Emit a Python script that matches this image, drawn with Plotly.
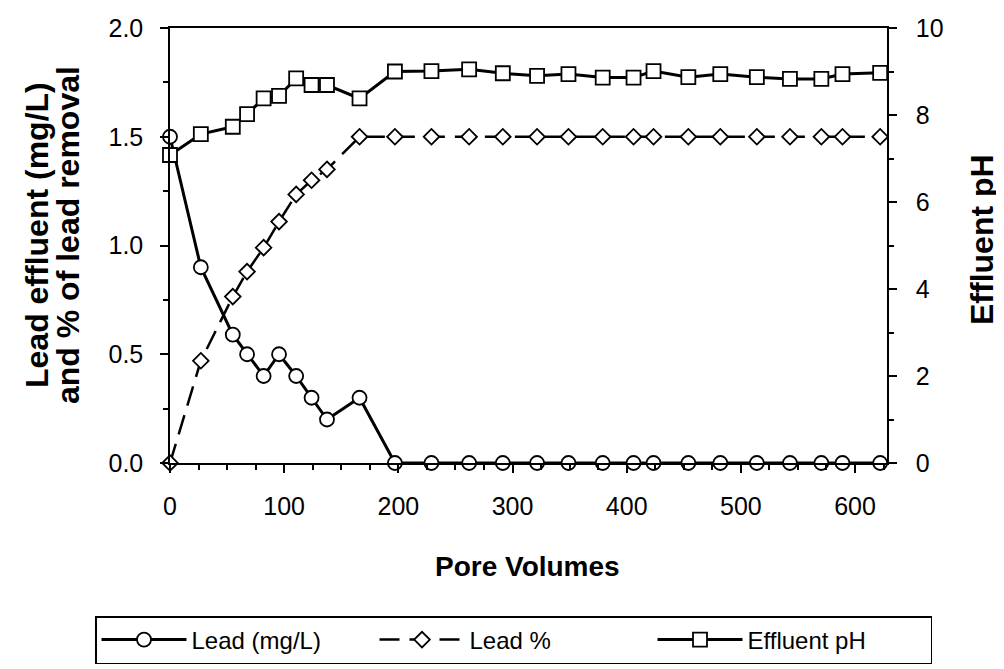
import plotly.graph_objects as go

pore_volumes = [0, 27, 55, 67.5, 82, 95.5, 110.5, 124, 137.5, 166, 197, 229, 262, 291.5,
                321.5, 349, 379, 406, 423.5, 454, 482, 514, 543, 570.5, 589, 622]
lead_mgL = [1.5, 0.9, 0.59, 0.5, 0.4, 0.5, 0.4, 0.3, 0.2, 0.3] + [0.0] * 16
lead_pct = [0.0, 0.47, 0.765, 0.88, 0.99, 1.11, 1.235, 1.30, 1.35, 1.5] + [1.5] * 16
effluent_ph = [7.08, 7.56, 7.73, 8.02, 8.38, 8.44, 8.84, 8.69, 8.69, 8.38, 9.0, 9.01, 9.05,
               8.96, 8.9, 8.94, 8.86, 8.86, 9.01, 8.87, 8.94, 8.87, 8.83, 8.83, 8.94, 8.97]

FONT = "Liberation Sans, Arial, sans-serif"

fig = go.Figure()
fig.add_trace(go.Scatter(
    x=pore_volumes, y=lead_mgL, name="Lead (mg/L)", mode="lines+markers",
    line=dict(color="black", width=3),
    marker=dict(symbol="circle", size=14, color="white", line=dict(color="black", width=1.8)),
    cliponaxis=False))
fig.add_trace(go.Scatter(
    x=pore_volumes, y=lead_pct, name="Lead %", mode="lines+markers",
    line=dict(color="black", width=2.5, dash="20px,10px"),
    marker=dict(symbol="diamond", size=12, color="white", line=dict(color="black", width=1.8)),
    cliponaxis=False))
fig.add_trace(go.Scatter(
    x=pore_volumes, y=effluent_ph, name="Effluent pH", mode="lines+markers", yaxis="y2",
    line=dict(color="black", width=3),
    marker=dict(symbol="square", size=14, color="white", line=dict(color="black", width=1.8)),
    cliponaxis=False))

axis_common = dict(showline=True, linecolor="black", linewidth=1.5, showgrid=False, zeroline=False,
                   ticks="outside", ticklen=8, tickwidth=1.5, tickcolor="black",
                   tickfont=dict(family=FONT, size=25, color="black"))

# the page body adds an 8 px offset, so margins are reduced by 8
fig.update_layout(
    width=1004, height=669,
    margin=dict(l=162, r=125, t=20, b=214, autoexpand=False),
    paper_bgcolor="white", plot_bgcolor="white",
    font=dict(family=FONT, color="black"),
    xaxis=dict(range=[0, 628], tickvals=[0, 100, 200, 300, 400, 500, 600], mirror=True,
               ticklabelstandoff=12,
               minor=dict(dtick=25, ticks="outside", ticklen=5, tickcolor="black"),
               **axis_common),
    yaxis=dict(range=[0, 2.0], tickvals=[0, 0.5, 1.0, 1.5, 2.0], tickformat=".1f",
               ticklabelstandoff=12,
               minor=dict(dtick=0.25, ticks="outside", ticklen=5, tickcolor="black"),
               **axis_common),
    yaxis2=dict(range=[0, 10], tickvals=[0, 2, 4, 6, 8, 10], overlaying="y", side="right",
                ticklabelstandoff=14,
                minor=dict(dtick=1, ticks="outside", ticklen=5, tickcolor="black"),
                **axis_common),
    showlegend=True,
    legend=dict(orientation="h", xref="paper", yref="paper",
                x=(95 - 170) / 717, y=(463 - 616) / 435, xanchor="left", yanchor="top",
                bordercolor="black", borderwidth=1.5, bgcolor="white",
                font=dict(family=FONT, size=24, color="black"),
                itemwidth=85, entrywidth=178, entrywidthmode="pixels", tracegroupgap=0),
)

fig.add_annotation(text="<b>Pore Volumes</b>", xref="paper", yref="paper",
                   x=(527 - 170) / 717, y=(463 - 566) / 435, xanchor="center", yanchor="middle",
                   showarrow=False, font=dict(family=FONT, size=28, color="black"))
fig.add_annotation(text="<b>Lead effluent (mg/L)</b>", xref="paper", yref="paper",
                   x=(37 - 170) / 717, y=(463 - 235) / 435, xanchor="center", yanchor="middle",
                   textangle=-90, showarrow=False, font=dict(family=FONT, size=32, color="black"))
fig.add_annotation(text="<b>and % of lead removal</b>", xref="paper", yref="paper",
                   x=(68 - 170) / 717, y=(463 - 235) / 435, xanchor="center", yanchor="middle",
                   textangle=-90, showarrow=False, font=dict(family=FONT, size=32, color="black"))
fig.add_annotation(text="<b>Effluent pH</b>", xref="paper", yref="paper",
                   x=(982 - 170) / 717, y=(463 - 240) / 435, xanchor="center", yanchor="middle",
                   textangle=-90, showarrow=False, font=dict(family=FONT, size=32, color="black"))

fig.write_html("out.html")
